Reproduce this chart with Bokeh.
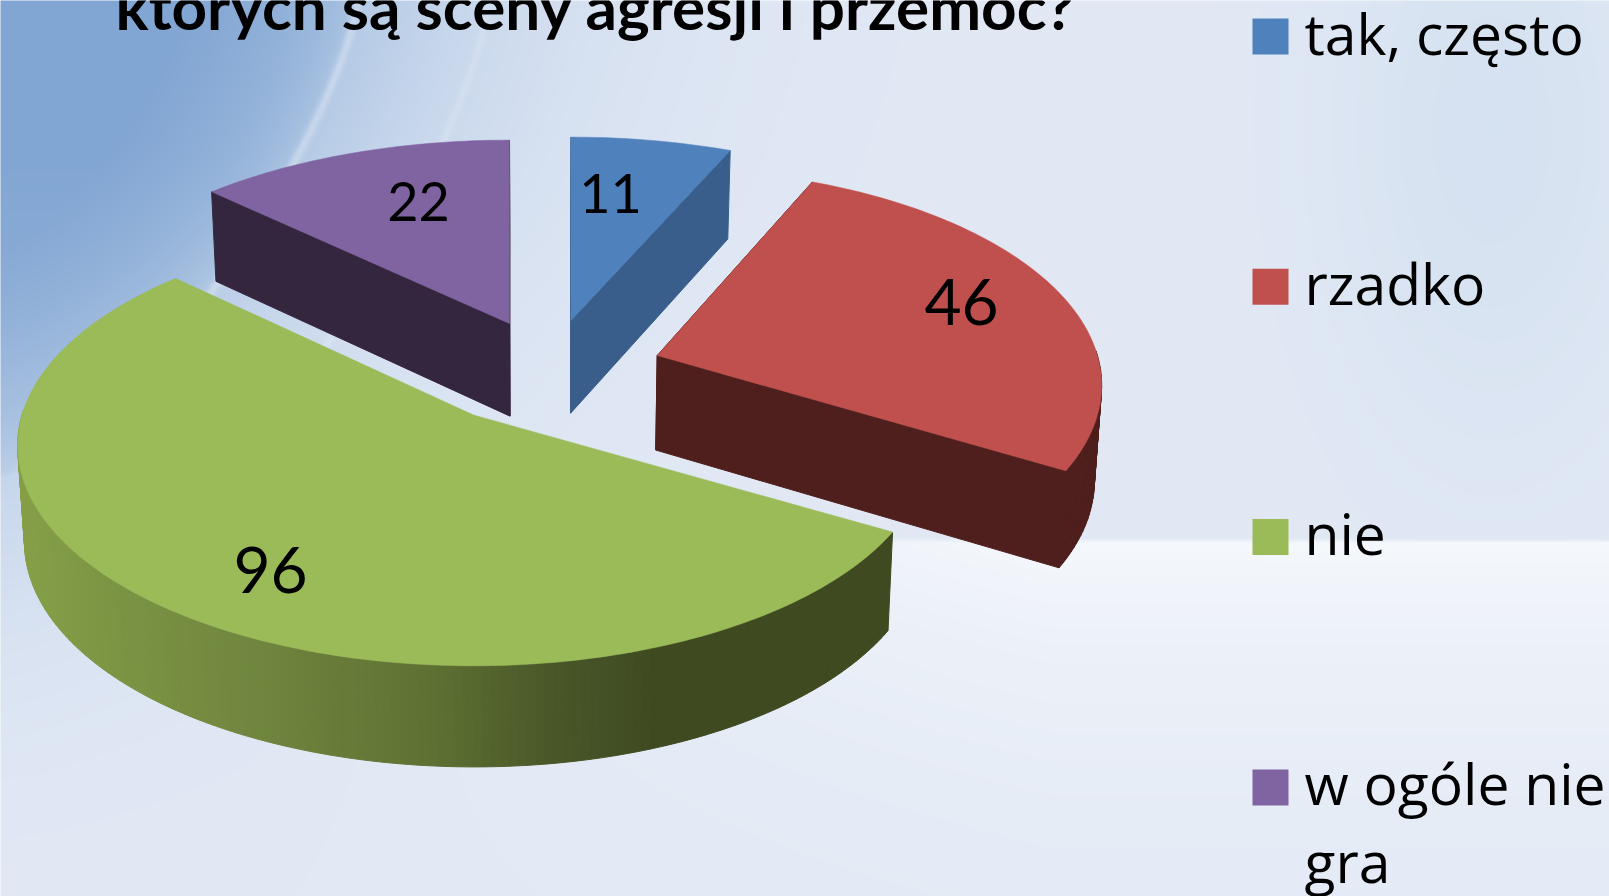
import numpy as np
from bokeh.plotting import figure
from bokeh.embed import file_html
from bokeh.resources import INLINE
from bokeh.core.properties import value
from bokeh.models import Range1d

# ---- data ----
categories = ["tak, często", "rzadko", "nie", "w ogóle nie gra"]
values = [11, 46, 96, 22]
top_colors = ["#4F81BD", "#C0504D", "#9BBB59", "#8064A2"]
side_colors = ["#3A5E8C", "#4E1F1C", "#5F7235", "#35263F"]
title_text = "których są sceny agresji i przemoc?"

# ---- layout (page pixels) ----
apex_x = [570.5, 656.7, 473.0, 509.0]
apex_y = [320.0, 355.0, 414.5, 323.0]
x_scale = [1.0, 0.975, 1.0, 1.0]
y_scale = [0.95, 0.97, 0.985, 0.95]
label_x = [610, 961, 270, 418]
label_y = [193, 301, 569, 201]
label_size = ["54px", "64px", "64px", "54px"]
A, B, K = 451.5, 219.6, 0.1376
H, KH = 97.5, 0.05
SHRINK, CX = 0.013, 544.0
X0, Y0, W, HT = 0, 0, 1609, 896

p = figure(width=W, height=HT, output_backend="svg", toolbar_location=None,
           x_range=Range1d(X0, X0 + W), y_range=Range1d(Y0 + HT, Y0),
           x_axis_type=None, y_axis_type=None, min_border=0,
           outline_line_color=None)
p.grid.visible = False

# ---- background ----
yy, xx = np.mgrid[Y0:Y0 + HT, X0:X0 + W].astype(float)
light = np.array([226, 233, 245], float)
pale = np.array([245, 248, 252], float)
mid = np.array([176, 199, 228], float)
dark = np.array([130, 166, 211], float)
patch = np.array([210, 224, 240], float)

def mix(c, col, t):
    return c * (1 - t[..., None]) + col * t[..., None]

img = np.ones(xx.shape + (3,)) * light
# bright lower band beneath the horizon, fading to the left
t = np.clip((yy - 537) / 5.0, 0, 1) * np.exp(-np.clip(yy - 541, 0, None) / 190.0) * np.clip((xx - 250) / 800.0, 0, 1)
img = mix(img, pale, t)
# soft blue patch upper right
t = 0.75 * np.exp(-((xx - 1490) / 170.0) ** 2 - ((yy - 130) / 330.0) ** 2) * (yy < 541)
img = mix(img, patch, t)
# curve describing the swoosh in the upper left
f = (xx / 350.0) ** 1.35 + (yy / 470.0) ** 1.35
t = np.clip(np.exp(-(f - 1.0) / 0.75), 0, 1) * 0.95
t = t * np.clip(1.25 - yy / 760.0, 0, 1)
img = mix(img, mid, np.clip(t, 0, 1))
t = np.clip((1.02 - f) / 0.6, 0, 1) ** 0.5
img = mix(img, dark, t * np.clip(1.15 - yy / 1000.0, 0, 1))
# thin light strokes
g = (xx / 478.0) ** 1.35 + (yy / 640.0) ** 1.35
s1 = np.exp(-((f - 1.03) / 0.018) ** 2) * 0.35
s2 = np.exp(-((g - 1.03) / 0.012) ** 2) * 0.25
img = mix(img, np.array([235, 241, 249], float), np.clip(s1 + s2, 0, 1) * (yy < 450))
rgba = np.dstack([img, np.full(xx.shape, 255.0)]).astype(np.uint8)
rgba_view = np.zeros(xx.shape, dtype=np.uint32)
rgba_view.view(np.uint8).reshape(xx.shape + (4,))[:] = rgba
p.image_rgba(image=[rgba_view], x=X0 - 1, y=Y0 - 1, dw=W + 2, dh=HT + 2)

# ---- pie ----
total = sum(values)
cum = np.cumsum([0] + values)

def warp(theta):
    return theta + np.radians(1.9) * (1 - np.cos(theta)) / 2 + np.radians(1.81) * np.sin(theta)

def project(i, theta, r=1.0):
    th = warp(theta)
    u, w = r * np.sin(th), r * np.cos(th)
    d = 1 + K * w
    return apex_x[i] + A * x_scale[i] * u / d, apex_y[i] - B * y_scale[i] * w / d

def lower(i, x, y, theta, r=1.0):
    w = r * np.cos(warp(theta))
    h = H * y_scale[i] / (1 + KH * w)
    return x + (CX - x) * SHRINK, y + h

grad_x = [16, 120, 260, 420, 560, 660, 900]
grad_c = [(135, 160, 72), (123, 148, 68), (112, 133, 62), (96, 115, 52), (72, 86, 40), (63, 74, 33), (63, 74, 33)]

def grad(x):
    c = [np.interp(x, grad_x, [g[k] for g in grad_c]) for k in range(3)]
    return "#%02x%02x%02x" % tuple(int(v) for v in c)

for i in [0, 3, 1, 2]:
    a0 = 2 * np.pi * cum[i] / total
    a1 = 2 * np.pi * cum[i + 1] / total
    n = max(12, int(values[i] * 2))
    th = np.linspace(a0, a1, n)
    tx, ty = project(i, th)
    bx, by = lower(i, tx, ty, th)
    ax, ay = apex_x[i], apex_y[i]
    bax, bay = lower(i, ax, ay, 0.0, 0.0)
    xs, ys, cols = [], [], []
    if i != 2:  # the large slice shows only its outer wall
        for j in [0, n - 1]:
            xs.append([ax, tx[j], bx[j], bax])
            ys.append([ay, ty[j], by[j], bay])
            cols.append(side_colors[i])
    for j in range(n - 1):
        if np.cos(warp(th[j])) < 0.02 or np.cos(warp(th[j + 1])) < 0.02:
            xs.append([tx[j], tx[j + 1], bx[j + 1], bx[j]])
            ys.append([ty[j], ty[j + 1], by[j + 1], by[j]])
            cols.append(grad((tx[j] + tx[j + 1]) / 2) if i == 2 else side_colors[i])
    p.patches(xs, ys, fill_color=cols, line_color=cols, line_width=1)
    p.patch(np.r_[ax, tx], np.r_[ay, ty], fill_color=top_colors[i], line_color=top_colors[i], line_width=0.5)

# ---- value labels ----
p.text(x=label_x, y=label_y, text=[str(v) for v in values], text_font=value("Lato"),
       text_font_size=label_size, text_color="black", text_align="center", text_baseline="middle")

# ---- title, cut by the top edge as in the source ----
p.text(x=[115], y=[5], text=[title_text], text_font=value("Lato"), text_font_style="bold",
       text_font_size="62px", text_color="black", text_align="left", text_baseline="middle")

# ---- legend ----
row0, row_step, sw = 18.0, 250.3, 36
rows = [row0 + row_step * k for k in range(len(categories))]
p.quad(left=1252, right=1252 + sw, top=rows, bottom=[r + sw for r in rows], fill_color=top_colors, line_color=None)
leg_y = [r + 14 for r in rows]
leg_txt = categories[:3] + ["w ogóle nie"]
p.text(x=1304, y=leg_y, text=leg_txt, text_font=value("Open Sans"), text_font_size="57px",
       text_color="black", text_align="left", text_baseline="middle")
p.text(x=[1304], y=[leg_y[3] + 78], text=["gra"], text_font=value("Open Sans"), text_font_size="57px",
       text_color="black", text_align="left", text_baseline="middle")

open("out.html", "w").write(file_html(p, INLINE))
